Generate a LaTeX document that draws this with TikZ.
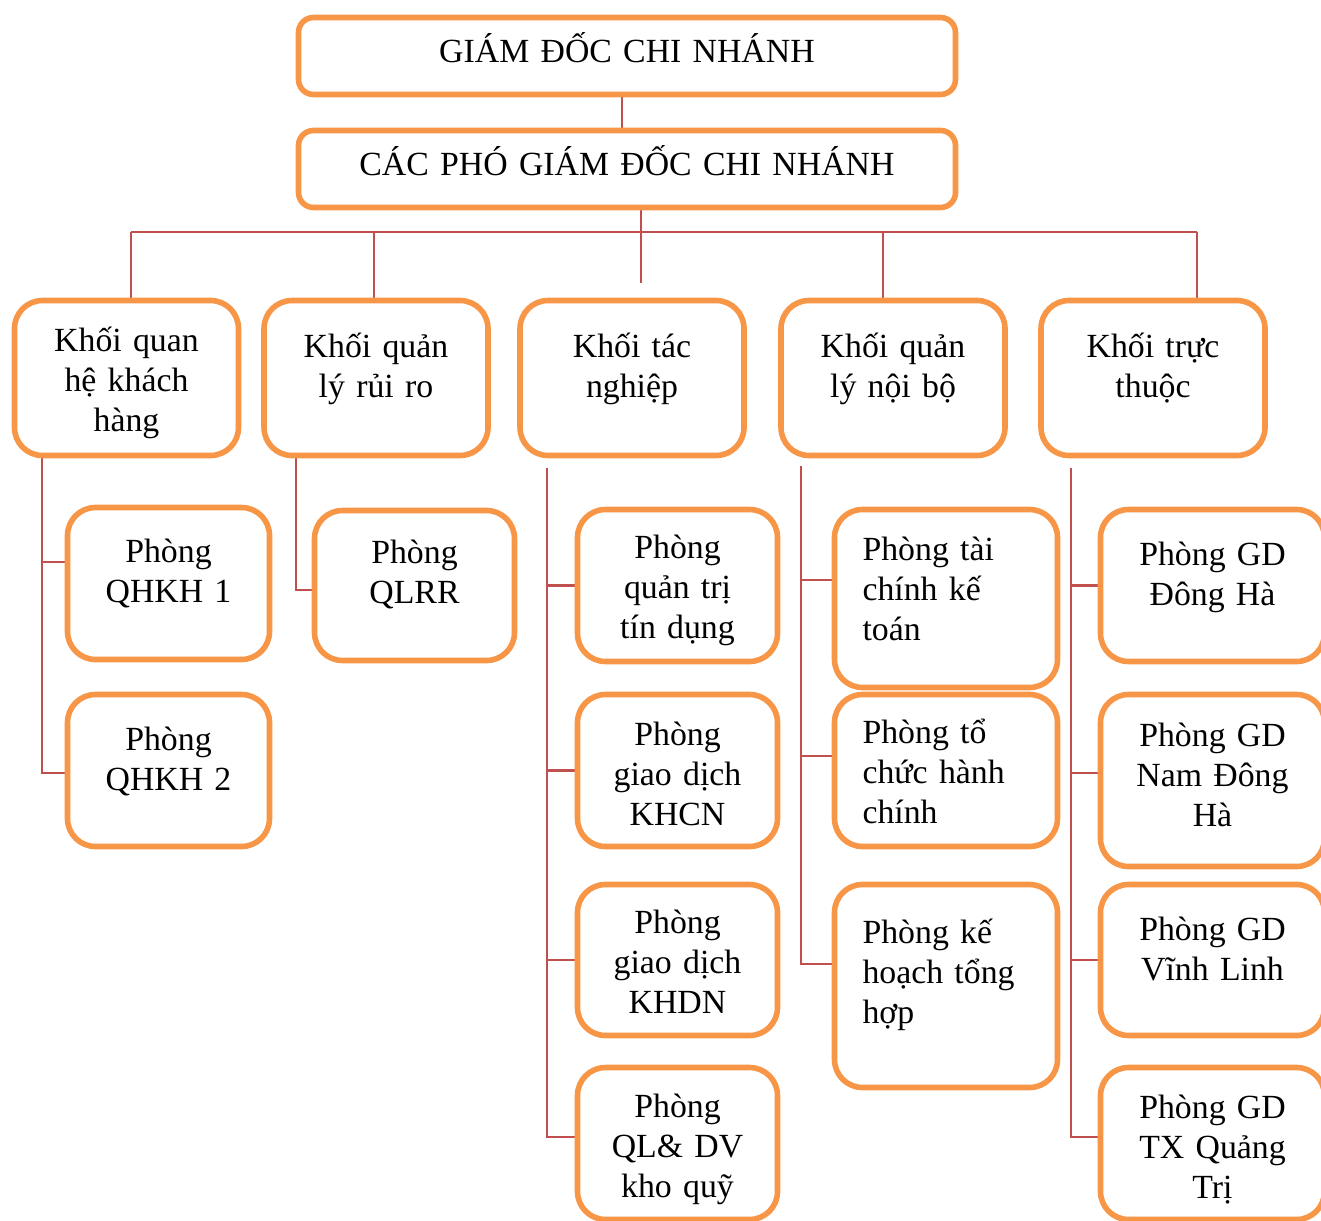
\documentclass[tikz,border=0pt]{standalone}
\usepackage{fontspec}
\setmainfont{Liberation Serif}
\usepackage{tikz}
\usetikzlibrary{positioning,calc,backgrounds}
\definecolor{peach}{HTML}{F79646}
\definecolor{brick}{HTML}{C0504D}

\tikzset{
  box/.style={draw=peach, line width=2.8pt, fill=white, rounded corners=14pt,
    inner xsep=0pt, inner ysep=0pt, align=center,
    font=\fontsize{16.9}{20}\selectfont},
  head/.style={box, rounded corners=7.5pt, text width=328.5pt},
  unit/.style={box, text width=112pt, text height=28.25pt, text depth=49.25pt},
  room/.style={box, text width=100pt},
  roomleft/.style={box, align=left, inner xsep=14pt, text width=83.5pt},
  link/.style={draw=brick, line width=1.1pt},
}

\begin{document}
\begin{tikzpicture}[x=0.5pt, y=-0.5pt]
  \useasboundingbox (0,0) rectangle (1321,1220);
  % top of the chart
  \node[head, text height=22.75pt, text depth=15.75pt] (gd) at (627,56) {GIÁM ĐỐC CHI NHÁNH};
  \node[head, text height=22.25pt, text depth=16.25pt] (pgd) at (627,169) {CÁC PHÓ GIÁM ĐỐC CHI NHÁNH};
  % the five blocks
  \node[unit, text height=25.5pt, text depth=52pt] (k1) at (126.5,378) {Khối quan\\hệ khách\\hàng};
  \node[unit] (k2) at (376,378) {Khối quản\\lý rủi ro};
  \node[unit] (k3) at (632,378) {Khối tác\\nghiệp};
  \node[unit] (k4) at (893,378) {Khối quản\\lý nội bộ};
  \node[unit] (k5) at (1153,378) {Khối trực\\thuộc};
  % rooms under each block
  \node[room, text width=101pt, text height=27.25pt, text depth=48.75pt] (q1) at (168.5,583.5) {Phòng\\QHKH 1};
  \node[room, text width=101pt, text height=27.75pt, text depth=48.25pt] (q2) at (168.5,770.5) {Phòng\\QHKH 2};
  \node[room, text height=26.25pt, text depth=48.75pt] (lr) at (414.5,585.5) {Phòng\\QLRR};
  \node[room, text height=24.25pt, text depth=51.75pt] (c1) at (677.5,585.5) {Phòng\\quản trị\\tín dụng};
  \node[room, text height=25.25pt, text depth=50.75pt] (c2) at (677.5,770.5) {Phòng\\giao dịch\\KHCN};
  \node[room, text height=24.25pt, text depth=51.25pt] (c3) at (677.5,960) {Phòng\\giao dịch\\KHDN};
  \node[room, text height=24.75pt, text depth=51.25pt] (c4) at (677.5,1143.5) {Phòng\\QL\& DV\\kho quỹ};
  \node[roomleft, text height=25.25pt, text depth=63.75pt] (d1) at (946,598.5) {Phòng tài\\chính kế\\toán};
  \node[roomleft, text height=24.25pt, text depth=51.75pt] (d2) at (946,770.5) {Phòng tổ\\chức hành\\chính};
  \node[roomleft, text height=29.25pt, text depth=72.25pt] (d3) at (946,986) {Phòng kế\\hoạch tổng\\hợp};
  \node[room, text width=112pt, text height=27.75pt, text depth=48.25pt] (e1) at (1212.5,585.5) {Phòng GD\\Đông Hà};
  \node[room, text width=112pt, text height=25.75pt, text depth=60.25pt] (e2) at (1212.5,780.5) {Phòng GD\\Nam Đông\\Hà};
  \node[room, text width=112pt, text height=27.75pt, text depth=47.75pt] (e3) at (1212.5,960) {Phòng GD\\Vĩnh Linh};
  \node[room, text width=112pt, text height=25.25pt, text depth=50.75pt] (e4) at (1212.5,1143.5) {Phòng GD\\TX Quảng\\Trị};
  % bus and trunks
  \coordinate (j1) at (131,232);
  \coordinate (j2) at (374,232);
  \coordinate (j3) at (641,232);
  \coordinate (j4) at (883,232);
  \coordinate (j5) at (1197,232);
  \coordinate (t1) at (42,0);
  \coordinate (t2) at (296,0);
  \coordinate (t3) at (547,0);
  \coordinate (t4) at (801,0);
  \coordinate (t5) at (1071,0);
  \begin{scope}[on background layer]
    \draw[link] ($(gd.south)+(-5,0)$) -- ($(pgd.north)+(-5,0)$);
    \draw[link] (j1) -- (j5);
    \draw[link, shorten >=7.5pt] (pgd.south -| j3) -- (j3 |- k3.north);
    \draw[link] (j1) -- (j1 |- k1.north);
    \draw[link] (j2) -- (j2 |- k2.north);
    \draw[link] (j4) -- (j4 |- k4.north);
    \draw[link] (j5) -- (j5 |- k5.north);
    % left column
    \draw[link] (k1.south -| t1) |- ($(q1.west)+(0,-21.5)$);
    \draw[link] (k1.south -| t1) |- ($(q2.west)+(0,2.5)$);
    \draw[link] (k2.south -| t2) |- ($(lr.west)+(0,4.5)$);
    % middle column
    \draw[link, shorten <=4.75pt] (k3.south -| t3) |- (c1.west);
    \draw[link, shorten <=4.75pt] (k3.south -| t3) |- (c2.west);
    \draw[link, shorten <=4.75pt] (k3.south -| t3) |- (c3.west);
    \draw[link, shorten <=4.75pt] (k3.south -| t3) |- ($(c4.west)+(0,-6.5)$);
    \draw[link, shorten <=3.75pt] (k4.south -| t4) |- ($(d1.west)+(0,-18.5)$);
    \draw[link, shorten <=3.75pt] (k4.south -| t4) |- ($(d2.west)+(0,-14.5)$);
    \draw[link, shorten <=3.75pt] (k4.south -| t4) |- ($(d3.west)+(0,-22)$);
    % right column
    \draw[link, shorten <=4.75pt] (k5.south -| t5) |- (e1.west);
    \draw[link, shorten <=4.75pt] (k5.south -| t5) |- ($(e2.west)+(0,-7.5)$);
    \draw[link, shorten <=4.75pt] (k5.south -| t5) |- (e3.west);
    \draw[link, shorten <=4.75pt] (k5.south -| t5) |- ($(e4.west)+(0,-6.5)$);
  \end{scope}
\end{tikzpicture}
\end{document}
